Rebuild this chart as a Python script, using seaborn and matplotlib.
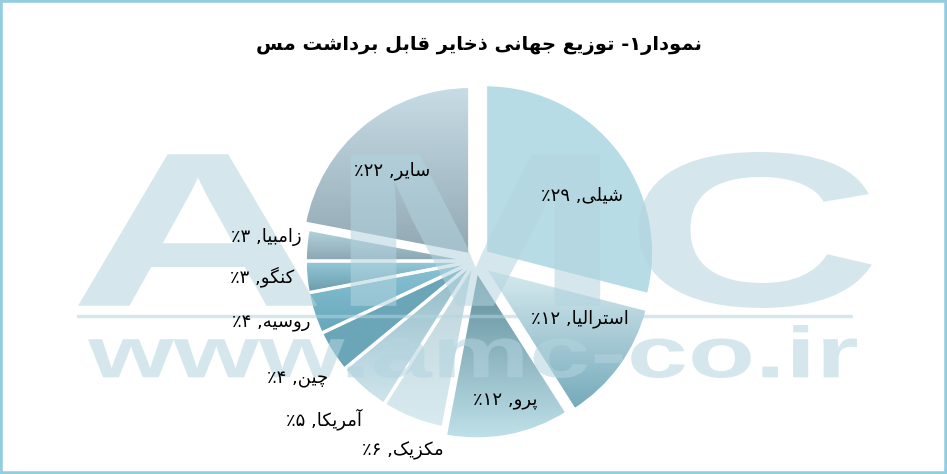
import re
import numpy as np
import matplotlib
matplotlib.use("Agg")
import matplotlib.pyplot as plt
import seaborn as sns
from matplotlib.colors import LinearSegmentedColormap
from matplotlib.font_manager import FontProperties
from matplotlib.textpath import TextPath
from matplotlib.patches import PathPatch, Rectangle
from matplotlib.transforms import Affine2D

# data
title = "نمودار۱- توزیع جهانی ذخایر قابل برداشت مس"
countries = ["شیلی", "استرالیا", "پرو", "مکزیک", "آمریکا", "چین", "روسیه", "کنگو", "زامبیا", "سایر"]
shares = [29, 12, 12, 6, 5, 4, 4, 3, 3, 22]
share_labels = ["۲۹", "۱۲", "۱۲", "۶", "۵", "۴", "۴", "۳", "۳", "۲۲"]

# styles
explode = [0.08, 0.07, 0.06, 0.01, 0.01, 0.01, 0.01, 0.01, 0.01, 0.05]
grads = [("#b7dce6", "#b9dde6"), ("#d8ebf0", "#74a9ba"), ("#5d8b97", "#bfe1ea"),
         ("#bcd3da", "#d8ebf0"), ("#8fb9c6", "#cfe5ec"), ("#6ca6b8", "#6aa6b9"),
         ("#8ac4d5", "#66a6ba"), ("#94cadb", "#6a9aa9"), ("#b5d4de", "#89a5b1"),
         ("#c7dce5", "#91a8b3")]
label_pos = [(0.67, -7), (0.64, 8), (0.79, 1.5), (1.2, 0.7), (1.29, -2.3),
             (1.26, 1.1), (1.26, -1.2), (1.26, -1.1), (1.24, -1.2), (0.68, 3)]

# minimal arabic/persian shaping: (isolated, final, initial, medial)
FORMS = {
    "ا": ("\uFE8D", "\uFE8E"), "آ": ("\uFE81", "\uFE82"),
    "د": ("\uFEA9", "\uFEAA"), "ذ": ("\uFEAB", "\uFEAC"),
    "ر": ("\uFEAD", "\uFEAE"), "ز": ("\uFEAF", "\uFEB0"),
    "و": ("\uFEED", "\uFEEE"),
    "ب": ("\uFE8F", "\uFE90", "\uFE91", "\uFE92"),
    "پ": ("\uFB56", "\uFB57", "\uFB58", "\uFB59"),
    "ت": ("\uFE95", "\uFE96", "\uFE97", "\uFE98"),
    "ج": ("\uFE9D", "\uFE9E", "\uFE9F", "\uFEA0"),
    "چ": ("\uFB7A", "\uFB7B", "\uFB7C", "\uFB7D"),
    "خ": ("\uFEA5", "\uFEA6", "\uFEA7", "\uFEA8"),
    "س": ("\uFEB1", "\uFEB2", "\uFEB3", "\uFEB4"),
    "ش": ("\uFEB5", "\uFEB6", "\uFEB7", "\uFEB8"),
    "ع": ("\uFEC9", "\uFECA", "\uFECB", "\uFECC"),
    "ق": ("\uFED5", "\uFED6", "\uFED7", "\uFED8"),
    "ک": ("\uFB8E", "\uFB8F", "\uFB90", "\uFB91"),
    "گ": ("\uFB92", "\uFB93", "\uFB94", "\uFB95"),
    "ل": ("\uFEDD", "\uFEDE", "\uFEDF", "\uFEE0"),
    "م": ("\uFEE1", "\uFEE2", "\uFEE3", "\uFEE4"),
    "ن": ("\uFEE5", "\uFEE6", "\uFEE7", "\uFEE8"),
    "ه": ("\uFEE9", "\uFEEA", "\uFEEB", "\uFEEC"),
    "ی": ("\uFBFC", "\uFBFD", "\uFBFE", "\uFBFF"),
}


def shape(text):
    out = []
    for i, ch in enumerate(text):
        if ch not in FORMS:
            out.append(ch)
            continue
        f = FORMS[ch]
        prev = text[i - 1] if i > 0 else ""
        nxt = text[i + 1] if i + 1 < len(text) else ""
        jp = prev in FORMS and len(FORMS[prev]) == 4
        jn = len(f) == 4 and nxt in FORMS
        if jp and jn:
            out.append(f[3])
        elif jp:
            out.append(f[1])
        elif jn:
            out.append(f[2])
        else:
            out.append(f[0])
    return "".join(out)


def rtl(text):
    s = shape(text)[::-1]
    return re.sub(r"[0-9۰-۹]+", lambda m: m.group(0)[::-1], s)


sns.set_theme(style="white")
plt.rcParams["font.family"] = ["DejaVu Sans"]

W, H = 947, 474
fig = plt.figure(figsize=(W / 100, H / 100), dpi=100)
ax = fig.add_axes([0, 0, 1, 1])

cx, cy, R = 475, H - 261, 168
# pie's explode is in data units, so scale by the radius
wedges, _ = ax.pie(shares, explode=[e * R for e in explode], startangle=90,
                   counterclock=False, center=(cx, cy), radius=R,
                   wedgeprops=dict(edgecolor="white", linewidth=2.2))

grad = np.linspace(0, 1, 256)[:, None]
for w, (ctop, cbot) in zip(wedges, grads):
    bb = w.get_path().get_extents()
    cmap = LinearSegmentedColormap.from_list("g", [ctop, cbot])
    im = ax.imshow(grad, extent=(bb.x0, bb.x1, bb.y0, bb.y1), origin="upper",
                   cmap=cmap, aspect="auto", zorder=2, interpolation="bilinear")
    im.set_clip_path(w)
    w.set_facecolor("none")
    w.set_zorder(3)

# watermark
wm_color, wm_alpha = "#b3d4df", 0.55
bold = FontProperties(family="Liberation Sans", weight="bold")


def stretched_text(s, x0, x1, ytop, ybot):
    p = TextPath((0, 0), s, size=100, prop=bold)
    e = p.get_extents()
    t = (Affine2D().translate(-e.x0, -e.y0)
         .scale((x1 - x0) / e.width, (ybot - ytop) / e.height)
         .translate(x0, H - ybot))
    ax.add_patch(PathPatch(t.transform_path(p), facecolor=wm_color, edgecolor="none",
                           alpha=wm_alpha, zorder=4))


stretched_text("AMC", 78, 872, 152, 308)
stretched_text("www.amc-co.ir", 88, 857, 325, 378)
ax.axhline(H - 316, xmin=78 / W, xmax=851 / W, color=wm_color, alpha=wm_alpha, lw=2.5, zorder=4)

# labels
for w, name, val, (dist, dth) in zip(wedges, countries, share_labels, label_pos):
    ang = np.deg2rad((w.theta1 + w.theta2) / 2 + dth)
    x = w.center[0] + w.r * dist * np.cos(ang)
    y = w.center[1] + w.r * dist * np.sin(ang)
    ax.text(x, y, rtl(name + ", " + val + "٪"), ha="center", va="center",
            fontsize=13, color="black", zorder=5)

fig.text(479 / W, 1 - 45 / H, rtl(title), ha="center", va="center",
         fontsize=14, fontweight="bold", color="black")

ax.set_xlim(0, W)
ax.set_ylim(0, H)
ax.set_aspect("equal")
ax.axis("off")

fig.patches.append(Rectangle((0, 0), 1, 1, transform=fig.transFigure, fill=False,
                             edgecolor="#92cde0", linewidth=4))

fig.savefig("out.png", dpi=100)
